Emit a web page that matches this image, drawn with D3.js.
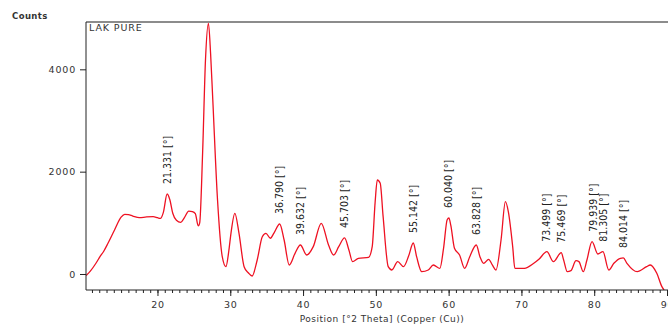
<!DOCTYPE html>
<html>
<head>
<meta charset="utf-8">
<script src="https://cdn.jsdelivr.net/npm/d3@7"></script>
<style>
  html, body { margin: 0; padding: 0; background: #fff; }
  svg { display: block; }
  .tick-label { font-family: "DejaVu Sans", sans-serif; font-size: 9.5px; fill: #333; letter-spacing: 0.8px; }
  .peak-label { font-family: "Liberation Sans Narrow", "DejaVu Sans Condensed", "Liberation Sans", sans-serif; font-size: 10.5px; fill: #222; }
</style>
</head>
<body>
<svg id="chart" width="668" height="327"></svg>
<script>
// Diffraction scan: 2θ positions (degrees) and intensities (counts)
const twoTheta = [
  10.2, 10.8, 11.5, 12.1, 12.6, 13.2, 14.1, 15.0, 15.5, 16.0, 16.6, 17.5, 18.5, 19.4, 20.0, 20.4,
  20.8, 21.33, 21.7, 22.1, 22.6, 23.2, 23.7, 24.3, 24.8, 25.2, 25.6, 25.8, 26.2, 26.6, 27.0, 27.3,
  27.6, 28.25, 28.9, 29.4, 29.8, 30.1, 30.63, 31.2, 31.9, 32.5, 33.0, 33.7, 34.4, 34.9, 35.5, 36.0,
  36.79, 37.4, 38.1, 38.9, 39.63, 40.5, 41.4, 42.5, 43.5, 44.2, 44.9, 45.7, 46.3, 46.8, 47.6, 49.0,
  49.5, 49.9, 50.2, 50.6, 51.0, 51.7, 52.2, 53.0, 53.8, 54.5, 55.14, 55.6, 56.3, 57.2, 57.9, 58.8,
  59.3, 59.8, 60.04, 60.3, 60.8, 61.5, 62.2, 62.9, 63.8, 64.3, 64.8, 65.5, 66.0, 66.5, 67.2, 67.8,
  68.2, 68.8, 69.1, 70.4, 71.7, 72.4, 73.5, 74.4, 75.47, 75.8, 76.3, 76.8, 77.5, 77.9, 78.5, 79.0,
  79.7, 80.5, 81.2, 82.0, 82.7, 83.6, 84.0, 84.5, 85.9, 87.2, 87.7, 88.6, 89.3, 89.6
];
const counts = [
  -30, 60, 200, 338, 440, 600, 860, 1110, 1167, 1160, 1133, 1100, 1115, 1120, 1100, 1085,
  1200, 1563, 1450, 1186, 1050, 1010, 1100, 1230, 1220, 1180, 940, 1000, 2365, 4200, 4900, 4300,
  3400, 1446, 338, 143, 450, 800, 1186, 795, 143, 20, -39, 274, 729, 795, 698, 800,
  977, 664, 176, 404, 567, 371, 534, 990, 567, 371, 534, 704, 469, 241, 306, 326,
  534, 1400, 1837, 1772, 1120, 143, 78, 241, 143, 350, 606, 338, 45, 78, 176, 111,
  500, 1060, 1094, 950, 502, 371, 111, 338, 567, 338, 209, 287, 176, 78, 664, 1413,
  1218, 534, 111, 111, 209, 287, 436, 241, 417, 274, 45, 65, 260, 241, 45, 274,
  631, 391, 436, 78, 209, 306, 313, 209, 45, 143, 176, 13, -248, -313
];

// Identified peak positions and their labels
const peakPos = [21.331, 36.790, 39.632, 45.703, 55.142, 60.040, 63.828, 73.499, 75.469, 79.939, 81.305, 84.014];
const peakCounts = [1563, 977, 567, 704, 606, 1094, 567, 436, 417, 631, 436, 313];
const peakText = ["21.331 [°]", "36.790 [°]", "39.632 [°]", "45.703 [°]", "55.142 [°]", "60.040 [°]",
                  "63.828 [°]", "73.499 [°]", "75.469 [°]", "79.939 [°]", "81.305 [°]", "84.014 [°]"];

const yTicks = [0, 2000, 4000];
const xTicks = [20, 30, 40, 50, 60, 70, 80, 90];
const sampleName = "LAK PURE";
const yTitle = "Counts";
const xTitle = "Position [°2 Theta] (Copper (Cu))";

const svg = d3.select("#chart");
const plotLeft = 86, plotRight = 667, plotTop = 22, plotBottom = 290;

const x = d3.scaleLinear().domain([10.18, 90]).range([plotLeft, plotRight]);
const y = d3.scaleLinear().domain([-313, 4925]).range([plotBottom, plotTop]);

// Frame: top border
svg.append("line")
  .attr("x1", plotLeft).attr("x2", 668).attr("y1", plotTop).attr("y2", plotTop)
  .attr("stroke", "#666").attr("stroke-width", 1.5);

// Scan trace
svg.append("clipPath").attr("id", "plot-clip")
  .append("rect").attr("x", plotLeft).attr("y", plotTop - 1)
  .attr("width", 668 - plotLeft).attr("height", plotBottom - plotTop + 1);

const pts = twoTheta.map((t, i) => [t, counts[i]]);
const line = d3.line()
  .x(d => x(d[0])).y(d => y(d[1]))
  .curve(d3.curveMonotoneX);

svg.append("path")
  .datum(pts)
  .attr("clip-path", "url(#plot-clip)")
  .attr("d", line)
  .attr("fill", "none")
  .attr("stroke", "#ee1122")
  .attr("stroke-width", 1.3)
  .attr("stroke-linejoin", "round");

// Y axis
const yAxis = d3.axisLeft(y).tickValues(yTicks).tickSize(6).tickPadding(4).tickFormat(d3.format("d"));
const gy = svg.append("g").attr("transform", `translate(${plotLeft},0)`).call(yAxis);
gy.select(".domain").attr("d", `M0,${plotTop}V${plotBottom}`).attr("stroke", "#222");
gy.selectAll(".tick line").attr("stroke", "#222");
gy.selectAll(".tick text").attr("class", "tick-label");

// X axis: minor ticks every degree, labelled majors every ten
const minor = d3.range(11, 91, 1);
const gxMinor = svg.append("g").attr("transform", `translate(0,${plotBottom})`)
  .call(d3.axisBottom(x).tickValues(minor).tickSize(3).tickFormat(""));
gxMinor.select(".domain").remove();
gxMinor.selectAll(".tick line").attr("stroke", "#222");

const gx = svg.append("g").attr("transform", `translate(0,${plotBottom})`)
  .call(d3.axisBottom(x).tickValues(xTicks).tickSize(6).tickPadding(5).tickFormat(d3.format("d")));
gx.select(".domain").attr("d", `M${plotLeft},0H668`).attr("stroke", "#222");
gx.selectAll(".tick line").attr("stroke", "#222");
gx.selectAll(".tick text").attr("class", "tick-label");

// Titles
svg.append("text").attr("x", 12).attr("y", 19).text(yTitle)
  .attr("font-family", "DejaVu Sans, sans-serif").attr("font-size", 8.5).attr("font-weight", "bold")
  .attr("letter-spacing", 0.4).attr("fill", "#333");

svg.append("text").attr("x", 89).attr("y", 31).text(sampleName)
  .attr("font-family", "DejaVu Sans, sans-serif").attr("font-size", 9.5)
  .attr("letter-spacing", 0.9).attr("fill", "#333");

svg.append("text").attr("x", 382).attr("y", 322).attr("text-anchor", "middle").text(xTitle)
  .attr("font-family", "DejaVu Sans, sans-serif").attr("font-size", 9)
  .attr("letter-spacing", 0.5).attr("fill", "#333");

// Peak labels, rotated, just above each peak
svg.append("g").selectAll("text")
  .data(peakPos)
  .join("text")
  .attr("class", "peak-label")
  .attr("transform", (d, i) => `translate(${x(d) + 3.5},${y(peakCounts[i]) - 10}) rotate(-90)`)
  .text((d, i) => peakText[i]);
</script>
</body>
</html>
